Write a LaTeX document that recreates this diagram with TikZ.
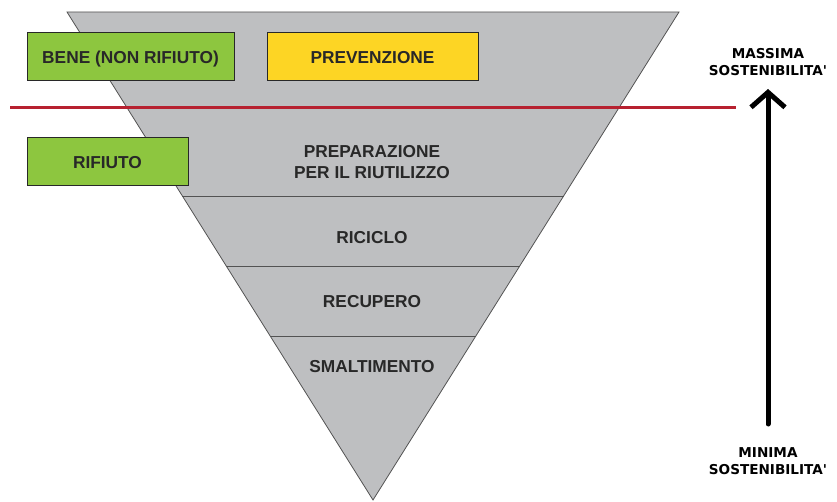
\documentclass[tikz,border=0pt]{standalone}
\usepackage{fontspec}
\setmainfont{Liberation Sans}
\newfontfamily\verd{DejaVu Sans}
\usepackage{tikz}
\usetikzlibrary{arrows.meta, calc}
\definecolor{rif_gray}{RGB}{190, 191, 193}
\definecolor{rif_green}{RGB}{141, 198, 63}
\definecolor{rif_yellow}{RGB}{253, 213, 36}
\definecolor{rif_red}{RGB}{183, 33, 48}
\definecolor{rif_text}{RGB}{40, 40, 40}

\begin{document}
\begin{tikzpicture}[
        x=1pt, y=-1pt,
        lbl/.style={font=\fontsize{17.3}{21}\selectfont\bfseries, text=rif_text, align=center},
        tagbox/.style={lbl, rectangle, draw=rif_text, line width=0.9pt,
                       minimum height=48pt, inner sep=0pt,
                       text height=15.4pt, text depth=0pt},
        side/.style={font=\verd\fontsize{13.6}{17}\selectfont\bfseries, align=center},
        arr/.style={-{Straight Barb[length=15pt, width=34pt]}, line width=5pt, line cap=round},
      ]
        \useasboundingbox (0,0) rectangle (837,502);

        % piramide rovesciata
        \coordinate (tl) at (67,12);
        \coordinate (tr) at (679,12);
        \coordinate (ap) at (373,500);
        \draw[fill=rif_gray, draw=rif_text!80, line width=0.8pt] (tl) -- (tr) -- (ap) -- cycle;

        \foreach \t in {0.377, 0.5205, 0.664}
          \draw[rif_text!80, line width=0.8pt] ($(tl)!\t!(ap)$) -- ($(tr)!\t!(ap)$);

        % linea rossa
        \coordinate (rl) at (10,108);
        \coordinate (rr) at (736,108);
        \draw[rif_red, line width=3pt] (rl) -- (rr);

        % riquadri
        \node[tagbox, fill=rif_green, minimum width=207pt] (bene) at (130.5,56)
          {BENE (NON RIFIUTO)};
        \node[tagbox, fill=rif_yellow, minimum width=211pt] (prev) at (372.5,56)
          {PREVENZIONE};
        \node[tagbox, fill=rif_green, minimum width=161pt] (rifiuto) at (107.5,161)
          {RIFIUTO};

        % livelli
        \node[lbl] (prep) at (372,162) {PREPARAZIONE\\PER IL RIUTILIZZO};
        \node[lbl] (ricic) at (372,238) {RICICLO};
        \node[lbl] (recup) at (372,302) {RECUPERO};
        \node[lbl] (smalt) at (372,367) {SMALTIMENTO};

        % sostenibilita'
        \node[side] (maxs) at (768,62) {MASSIMA\\SOSTENIBILITA'};
        \node[side] (mins) at (768,461) {MINIMA\\SOSTENIBILITA'};

        \coordinate (lo) at (768,424);
        \coordinate (hi) at (768,89);
        \draw[arr] (lo) -- (hi);
      \end{tikzpicture}
\end{document}
